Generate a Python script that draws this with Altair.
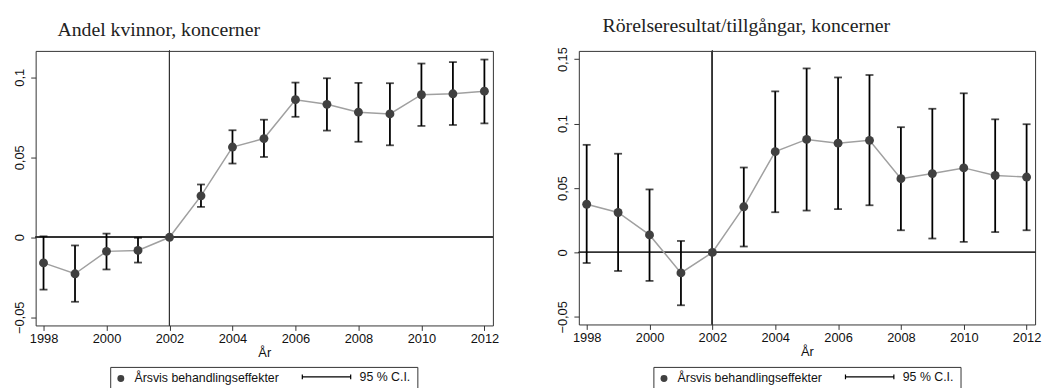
import altair as alt
import pandas as pd

years = list(range(1998, 2013))

left_est = [-0.0160, -0.0228, -0.0088, -0.0082, 0.0, 0.0259, 0.0564, 0.0617, 0.0860,
            0.0831, 0.0782, 0.0771, 0.0891, 0.0897, 0.0913]
left_lo = [-0.0327, -0.0403, -0.0201, -0.0158, None, 0.0190, 0.0461, 0.0502, 0.0753,
           0.0667, 0.0597, 0.0575, 0.0696, 0.0702, 0.0712]
left_hi = [0.0006, -0.0051, 0.0023, -0.0003, None, 0.0330, 0.0669, 0.0735, 0.0967,
           0.0994, 0.0965, 0.0963, 0.1086, 0.1095, 0.1111]

right_est = [0.0374, 0.0310, 0.0136, -0.0159, 0.0, 0.0354, 0.0782, 0.0877, 0.0848,
             0.0870, 0.0572, 0.0612, 0.0656, 0.0597, 0.0585]
right_lo = [-0.0082, -0.0144, -0.0221, -0.0410, None, 0.0046, 0.0312, 0.0325, 0.0336,
            0.0366, 0.0172, 0.0108, 0.0082, 0.0158, 0.0172]
right_hi = [0.0835, 0.0766, 0.0489, 0.0089, None, 0.0659, 0.1250, 0.1428, 0.1358,
            0.1377, 0.0972, 0.1115, 0.1235, 0.1033, 0.0995]

titles = ["Andel kvinnor, koncerner", "Rörelseresultat/tillgångar, koncerner"]
legend_labels = ["Årsvis behandlingseffekter", "95 % C.I."]
x_ticks = [1998, 2000, 2002, 2004, 2006, 2008, 2010, 2012]
left_yticks = [-0.05, 0, 0.05, 0.1]
right_yticks = [-0.05, 0, 0.05, 0.1, 0.15]
x_title = "År"
ref_year = 2002

SANS = "Liberation Sans"
SERIF = "Liberation Serif"
DARK = "#333333"
label_expr = "datum.value == 0 ? '0' : replace(format(datum.value, '~g'), '.', ',')"


def panel(est, lo, hi, ydom, yticks, title, dx, w, h):
    df = pd.DataFrame({"year": years, "est": est, "lo": lo, "hi": hi,
                       "pt": legend_labels[0], "ci": legend_labels[1]})
    xs = alt.Scale(domain=[1997.75, 2012.27], nice=False, zero=False)
    ys = alt.Scale(domain=ydom, nice=False, zero=False)
    xax = alt.Axis(values=x_ticks, format="d", grid=False, domain=False, tickSize=5,
                   tickColor=DARK, labelFont=SANS, labelFontSize=13, labelColor="#111",
                   labelPadding=2, title=x_title, titleFont=SANS, titleFontSize=13,
                   titleFontWeight="normal", titleColor="#111", titlePadding=1)
    yax = alt.Axis(values=yticks, labelExpr=label_expr, grid=False, domain=False, tickSize=5,
                   tickColor=DARK, labelFont=SANS, labelFontSize=13, labelColor="#111",
                   labelAngle=270, labelPadding=4, title=None)
    base = alt.Chart(df)
    X = alt.X("year:Q", scale=xs, axis=xax)
    zero = base.mark_rule(color=DARK, strokeWidth=1).encode(y=alt.datum(0, scale=ys, axis=yax))
    vline = base.mark_rule(color=DARK, strokeWidth=1).encode(x=alt.datum(ref_year, scale=xs, axis=xax))
    line = base.mark_line(color="#a0a0a0", strokeWidth=1.5).encode(
        x=X, y=alt.Y("est:Q", scale=ys, axis=yax))
    stems = base.mark_rule(strokeWidth=1.8).encode(
        x=X, y=alt.Y("lo:Q", scale=ys, axis=yax), y2="hi:Q",
        stroke=alt.Stroke("ci:N", scale=alt.Scale(range=["black"]),
                          legend=alt.Legend(orient="none", legendX=269, legendY=304.5, title=None,
                                            symbolType="M-1,0H1M-1,-0.1V0.1M1,-0.1V0.1",
                                            symbolSize=2401, symbolStrokeWidth=1.2,
                                            labelOffset=8, labelFont=SANS, labelFontSize=12.5,
                                            labelColor="#111", padding=0)))
    cap_lo = base.mark_tick(orient="horizontal", size=8, thickness=1.8, color="black").encode(
        x=X, y=alt.Y("lo:Q", scale=ys, axis=yax))
    cap_hi = base.mark_tick(orient="horizontal", size=8, thickness=1.8, color="black").encode(
        x=X, y=alt.Y("hi:Q", scale=ys, axis=yax))
    pts = base.mark_circle(size=81, opacity=1).encode(
        x=X, y=alt.Y("est:Q", scale=ys, axis=yax),
        fill=alt.Fill("pt:N", scale=alt.Scale(range=["#404040"]),
                      legend=alt.Legend(orient="none", legendX=80, legendY=325.5, title=None,
                                        symbolType="circle", symbolSize=49, labelOffset=7.5,
                                        labelFont=SANS, labelFontSize=12.5, labelColor="#111",
                                        padding=0)))
    box = alt.Chart(pd.DataFrame({"k": [0]})).mark_rect(
        fill="transparent", stroke=DARK, strokeWidth=1).encode(
        x=alt.value(76), x2=alt.value(387), y=alt.value(320.5), y2=alt.value(346))
    return alt.layer(zero, vline, line, stems, cap_lo, cap_hi, pts, box).properties(
        width=w, height=h,
        title=alt.TitleParams(title, anchor="start", frame="group", dx=dx, font=SERIF,
                              fontSize=20, fontWeight="normal", color="#222", offset=11))


left = panel(left_est, left_lo, left_hi, [-0.0551, 0.1165], left_yticks, titles[0], 22, 463, 278)
right = panel(right_est, right_lo, right_hi, [-0.0559, 0.1564], right_yticks, titles[1], 24, 462, 277)

chart = alt.hconcat(left, right, spacing=57).resolve_scale(
    x="independent", y="independent", fill="independent", stroke="independent"
).configure_view(stroke=DARK, strokeWidth=1).properties(
    padding={"left": 5, "top": 5, "right": 0, "bottom": 0})

chart.save("out.html", embed_options={"renderer": "svg", "actions": False})
